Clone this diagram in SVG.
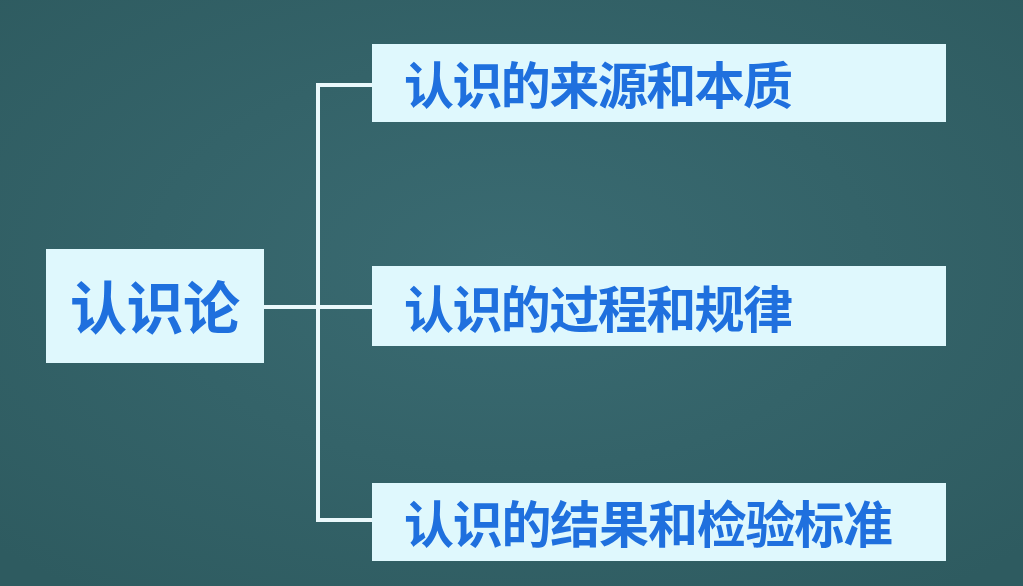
<svg xmlns="http://www.w3.org/2000/svg" width="1023" height="586" viewBox="0 0 1023 586">
  <style>
    .box { fill: #dff8fd; }
    .label { font-family: "Noto Sans CJK SC", "Noto Sans", sans-serif; font-weight: 600; fill: #1f70de; }
    .conn { stroke: #eaf8fb; stroke-width: 4; fill: none; }
  </style>
  <defs>
    <radialGradient id="bg" cx="50%" cy="45%" r="70%">
      <stop offset="0" stop-color="#3a6b72"/>
      <stop offset="1" stop-color="#2e5b60"/>
    </radialGradient>
  </defs>
  <rect width="1023" height="586" fill="url(#bg)"/>

  <!-- tree connectors -->
  <g id="connectors">
    <path class="conn" d="M264 307 H372"/>
    <path class="conn" d="M372 85 H318 V520 H372"/>
  </g>

  <g id="root">
    <rect class="box" x="46" y="249" width="218" height="114"/>
    <text class="label" x="70" y="329" font-size="57" textLength="170" lengthAdjust="spacing">认识论</text>
  </g>

  <g id="source">
    <rect class="box" x="372" y="44" width="574" height="78"/>
    <text class="label" x="404" y="104" font-size="50" textLength="389" lengthAdjust="spacing">认识的来源和本质</text>
  </g>

  <g id="process">
    <rect class="box" x="372" y="266" width="574" height="80"/>
    <text class="label" x="404" y="328" font-size="50" textLength="389" lengthAdjust="spacing">认识的过程和规律</text>
  </g>

  <g id="result">
    <rect class="box" x="372" y="483" width="574" height="78"/>
    <text class="label" x="404" y="543" font-size="50" textLength="489" lengthAdjust="spacing">认识的结果和检验标准</text>
  </g>
</svg>
